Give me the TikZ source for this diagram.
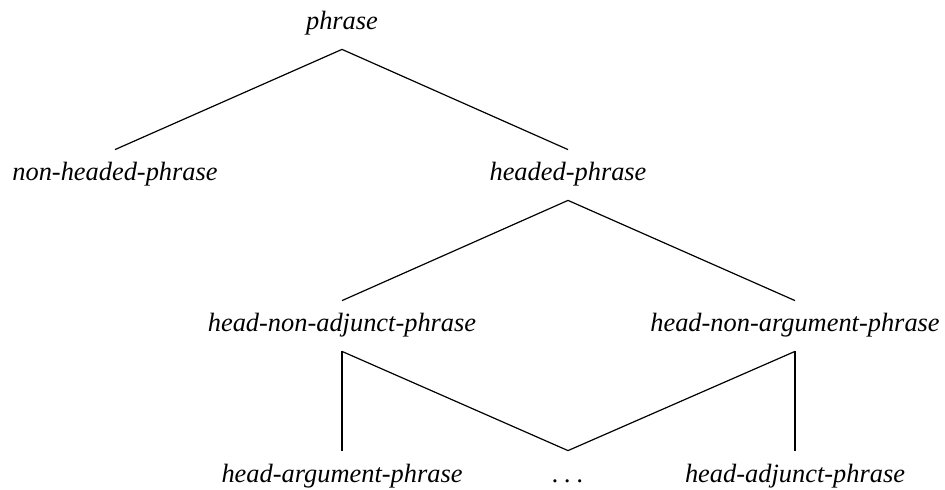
\documentclass[tikz,border=0pt]{standalone}
\usepackage{fontspec}
\setmainfont{Liberation Serif}
\usetikzlibrary{positioning}

\begin{document}
\begin{tikzpicture}[x=0.5pt, y=-0.5pt, font=\fontsize{13.2}{16}\selectfont\itshape]
  \tikzstyle{type}=[inner sep=0pt,text height=15.5pt,text depth=9.5pt,anchor=base]
  \tikzstyle{isa}=[line width=0.6pt]
  \useasboundingbox (0,0) rectangle (945,490);
  % type hierarchy, one row per level
  \node[type] (phrase) at (342,30) {phrase};
  \node[type] (nonheaded) at (115,181) {non-headed-phrase};
  \node[type] (headed) at (568,181) {headed-phrase};
  \node[type] (hnadj) at (342,332) {head-non-adjunct-phrase};
  \node[type] (hnarg) at (795,332) {head-non-argument-phrase};
  \node[type] (harg) at (342,482) {head-argument-phrase};
  \node[type] (more) at (568,482) {.\kern0.22em.\kern0.22em.};
  \node[type] (hadj) at (795,482) {head-adjunct-phrase};
  \draw[isa] (phrase.south) -- (nonheaded.north);
  \draw[isa] (phrase.south) -- (headed.north);
  \draw[isa] (headed.south) -- (hnadj.north);
  \draw[isa] (headed.south) -- (hnarg.north);
  \draw[isa] (hnadj.south) -- (harg.north);
  \draw[isa] (hnadj.south) -- (more.north);
  \draw[isa] (hnarg.south) -- (more.north);
  \draw[isa] (hnarg.south) -- (hadj.north);
\end{tikzpicture}
\end{document}
